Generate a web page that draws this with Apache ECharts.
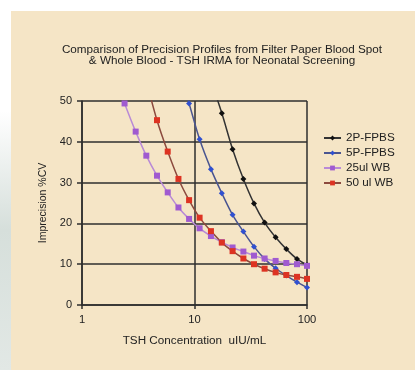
<!DOCTYPE html>
<html>
<head>
<meta charset="utf-8">
<script src="https://cdn.jsdelivr.net/npm/echarts@6/dist/echarts.min.js"></script>
<style>
html,body{margin:0;padding:0;width:415px;height:370px;overflow:hidden;}
body{background:linear-gradient(to bottom,#ffffff 0%,#ffffff 30%,#d6dfdb 62%,#e2e8e5 100%);}
#paper{position:absolute;left:11px;top:11px;right:0;bottom:0;background:#f5e5c6;}
#chart{position:absolute;left:0;top:0;width:415px;height:370px;}
</style>
</head>
<body>
<div id="paper"></div>
<div id="chart"></div>
<script>
// TSH concentration (uIU/mL)
const concentrations = [2.39, 3.0, 3.73, 4.64, 5.78, 7.2, 8.95, 11.1, 14.0, 17.5, 21.8, 27.2, 33.8, 42, 52.6, 65.5, 81.5, 100];
// Imprecision %CV per series (null = not measured)
const cv2PFPBS = [null, null, null, null, null, null, null, null, 55, 47.0, 38.2, 30.9, 24.9, 20.2, 16.6, 13.7, 11.3, 9.8];
const cv5PFPBS = [null, null, null, null, null, 58, 49.4, 40.6, 33.3, 27.4, 22.1, 18.0, 14.3, 11.3, 9.0, 7.2, 5.6, 4.3];
const cv25ulWB = [49.4, 42.5, 36.6, 31.7, 27.6, 23.9, 21.1, 18.8, 16.9, 15.4, 14.1, 13.1, 12.1, 11.4, 10.8, 10.3, 10.0, 9.6];
const cv50ulWB = [null, null, 55, 45.3, 37.6, 30.9, 25.7, 21.4, 18.1, 15.3, 13.2, 11.4, 10.0, 8.9, 8.0, 7.35, 6.9, 6.4];
const seriesNames = ['2P-FPBS', '5P-FPBS', '25ul WB', '50 ul WB'];
const yTicks = [0, 10, 20, 30, 40, 50];
const xTicks = [1, 10, 100];

function pairs(vals) {
  const out = [];
  vals.forEach((v, i) => { if (v !== null) out.push([concentrations[i], v]); });
  return out;
}

const font = 'Arial, "Liberation Sans", sans-serif';
const styles = [
  {data: cv2PFPBS, symbol: 'diamond', size: 6, mark: '#111111', line: '#333333'},
  {data: cv5PFPBS, symbol: 'diamond', size: 6, mark: '#3050d0', line: '#4a5590'},
  {data: cv25ulWB, symbol: 'rect', size: 6, mark: '#a05ad0', line: '#b98ad6'},
  {data: cv50ulWB, symbol: 'rect', size: 6, mark: '#dd3322', line: '#8c4a3e'}
];

const chart = echarts.init(document.getElementById('chart'), null, {renderer: 'canvas'});
chart.setOption({
  backgroundColor: 'transparent',
  animation: false,
  title: {
    text: 'Comparison of Precision Profiles from Filter Paper Blood Spot\n& Whole Blood - TSH IRMA for Neonatal Screening',
    left: 217, textAlign: 'center', top: 39,
    textStyle: {fontFamily: font, fontSize: 11.7, fontWeight: 'normal', color: '#222', lineHeight: 11.5}
  },
  legend: {
    orient: 'vertical', left: 318, top: 127, itemWidth: 17, itemHeight: 6, itemGap: 3,
    textStyle: {fontFamily: font, fontSize: 11.7, color: '#222'},
    data: seriesNames
  },
  grid: {left: 82, right: 108, top: 101, bottom: 65},
  xAxis: {
    type: 'log', logBase: 10, min: xTicks[0], max: xTicks[xTicks.length - 1],
    name: 'TSH Concentration  uIU/mL', nameLocation: 'middle', nameGap: 30,
    nameTextStyle: {fontFamily: font, fontSize: 11.7, color: '#222'},
    axisLine: {show: true, lineStyle: {color: '#2e2e2e', width: 1.5}},
    axisTick: {show: true, length: 4, lineStyle: {color: '#2e2e2e', width: 1.5}},
    axisLabel: {fontFamily: font, fontSize: 11.2, color: '#222', margin: 9},
    splitLine: {show: true, lineStyle: {color: '#2e2e2e', width: 1.5}},
    minorTick: {show: false}
  },
  yAxis: {
    type: 'value', min: yTicks[0], max: yTicks[yTicks.length - 1], interval: 10,
    name: 'Imprecision %CV', nameLocation: 'middle', nameGap: 29,
    nameTextStyle: {fontFamily: font, fontSize: 10.5, color: '#222'},
    axisLine: {show: true, lineStyle: {color: '#2e2e2e', width: 1.5}},
    axisTick: {show: true, length: 5, lineStyle: {color: '#2e2e2e', width: 1.5}},
    axisLabel: {fontFamily: font, fontSize: 11, color: '#222', margin: 10},
    splitLine: {show: true, lineStyle: {color: '#2e2e2e', width: 1.5}}
  },
  series: styles.map((s, i) => ({
    name: seriesNames[i], type: 'line', smooth: 0.35, clip: true,
    data: pairs(s.data), symbol: s.symbol, symbolSize: s.size, showSymbol: true,
    itemStyle: {color: s.mark, borderWidth: 0},
    lineStyle: {color: s.line, width: 1.5}
  }))
});
</script>
</body>
</html>
